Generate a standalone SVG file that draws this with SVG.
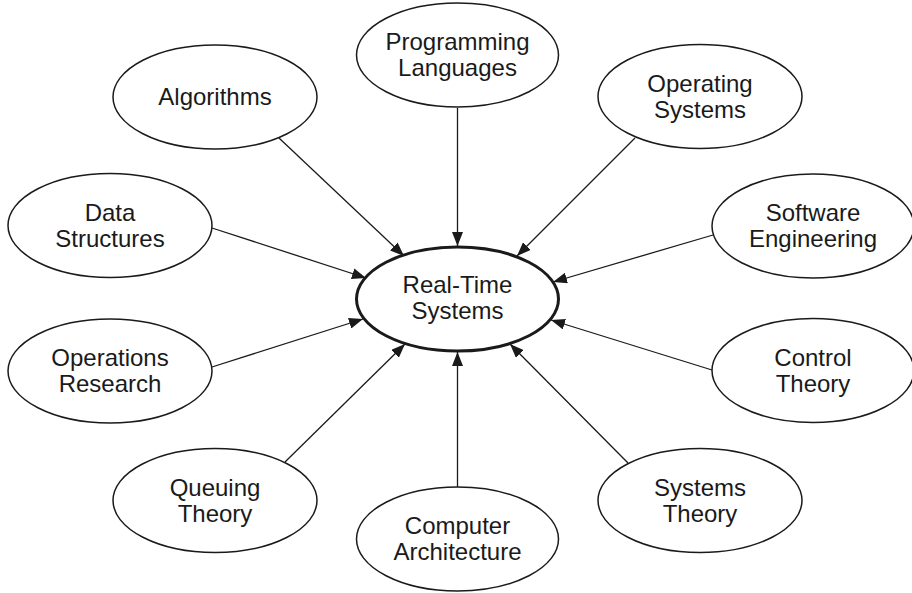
<svg xmlns="http://www.w3.org/2000/svg" width="912" height="593" viewBox="0 0 912 593">
<style>
.n{fill:#fff;stroke:#1a1a1a;stroke-width:1.5}
.c{fill:#fff;stroke:#1a1a1a;stroke-width:3}
text{font-family:"Liberation Sans",Arial,sans-serif;font-size:24px;fill:#1a1a1a;text-anchor:middle}
.e line{stroke:#1a1a1a;stroke-width:1.3;marker-end:url(#ah)}
</style>
<defs>
<marker id="ah" markerUnits="userSpaceOnUse" markerWidth="14" markerHeight="11" refX="14" refY="5.5" orient="auto">
<path d="M0,0 L14,5.5 L0,11 z" fill="#1a1a1a"/>
</marker>
</defs>
<rect width="912" height="593" fill="#fff"/>
<g class="e" id="connectors">
<line x1="279" y1="138" x2="404" y2="256"/>
<line x1="457.5" y1="108" x2="457.5" y2="246"/>
<line x1="635" y1="138" x2="517" y2="256"/>
<line x1="212" y1="228" x2="366" y2="278"/>
<line x1="713" y1="235" x2="553" y2="282"/>
<line x1="212" y1="367" x2="363" y2="319"/>
<line x1="712" y1="370" x2="551" y2="320"/>
<line x1="285" y1="462" x2="405" y2="344"/>
<line x1="457.5" y1="487" x2="457.5" y2="352"/>
<line x1="628" y1="463" x2="510" y2="344"/>
</g>
<g id="rts"><ellipse class="c" cx="457.5" cy="299" rx="101" ry="52"/><text x="457.5" y="293">Real-Time</text><text x="457.5" y="319">Systems</text></g>
<g id="pl"><ellipse class="n" cx="457.5" cy="55" rx="101" ry="52"/><text x="457.5" y="50">Programming</text><text x="457.5" y="76">Languages</text></g>
<g id="alg"><ellipse class="n" cx="215" cy="97" rx="102" ry="52"/><text x="215" y="105">Algorithms</text></g>
<g id="os"><ellipse class="n" cx="700" cy="96.5" rx="102" ry="52"/><text x="700" y="92">Operating</text><text x="700" y="118">Systems</text></g>
<g id="ds"><ellipse class="n" cx="110" cy="225.5" rx="102" ry="52"/><text x="110" y="221">Data</text><text x="110" y="247">Structures</text></g>
<g id="se"><ellipse class="n" cx="813" cy="226" rx="101" ry="52"/><text x="813" y="221">Software</text><text x="813" y="247">Engineering</text></g>
<g id="or"><ellipse class="n" cx="110" cy="371" rx="102" ry="52"/><text x="110" y="366">Operations</text><text x="110" y="392">Research</text></g>
<g id="ct"><ellipse class="n" cx="813" cy="370.5" rx="101" ry="52"/><text x="813" y="366">Control</text><text x="813" y="392">Theory</text></g>
<g id="qt"><ellipse class="n" cx="215" cy="500.5" rx="102" ry="52"/><text x="215" y="496">Queuing</text><text x="215" y="522">Theory</text></g>
<g id="ca"><ellipse class="n" cx="457.5" cy="539" rx="101" ry="52"/><text x="457.5" y="534">Computer</text><text x="457.5" y="560">Architecture</text></g>
<g id="st"><ellipse class="n" cx="700" cy="500.5" rx="102" ry="52"/><text x="700" y="496">Systems</text><text x="700" y="522">Theory</text></g>
</svg>
